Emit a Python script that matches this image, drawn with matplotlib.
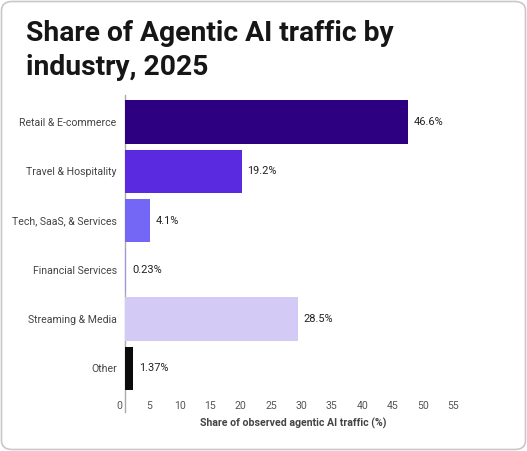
import numpy as np
import matplotlib
matplotlib.use("Agg")
import matplotlib.pyplot as plt
from matplotlib.patches import FancyBboxPatch
from matplotlib.transforms import ScaledTranslation

# 数据
categories = ["Retail & E-commerce", "Travel & Hospitality", "Tech, SaaS, & Services",
              "Financial Services", "Streaming & Media", "Other"]
values = [46.6, 19.2, 4.1, 0.23, 28.5, 1.37]
value_labels = ["46.6%", "19.2%", "4.1%", "0.23%", "28.5%", "1.37%"]
bar_colors = ["#2c0080", "#5a2ae0", "#7467f6", "#9d90ee", "#d3cbf6", "#0b0b0b"]
x_ticks = [0, 5, 10, 15, 20, 25, 30, 35, 40, 45, 50, 55]

W, H = 527, 451
fig = plt.figure(figsize=(W / 100, H / 100), dpi=100)

# 圆角卡片背景
card = FancyBboxPatch((1.5 / W, 1.5 / H), (W - 3) / W, (H - 3) / H,
                      boxstyle="round,pad=0,rounding_size=0.02",
                      transform=fig.transFigure, facecolor="white",
                      edgecolor="#c8c8c8", linewidth=1.2, zorder=-10)
fig.patches.append(card)

fig.text(26 / W, 1 - 20 / H, "Share of Agentic AI traffic by\nindustry, 2025",
         fontsize=20.3, fontweight="bold", family="Roboto", color="#161616",
         va="top", ha="left", linespacing=1.32)

left, right, top, bottom = 125, 476, 95, 412
ax = fig.add_axes([left / W, 1 - bottom / H, (right - left) / W, (bottom - top) / H])
ax.set_facecolor("none")

y = np.arange(len(categories))
ax.barh(y, values, height=0.88, color=bar_colors, zorder=3)

for yi, v, lab in zip(y, values, value_labels):
    ax.annotate(lab, (v, yi), xytext=(4, 0), textcoords="offset points",
                va="center", ha="left", fontsize=7.9, family="Roboto", color="#222222")

ax.set_xlim(0, 57.7)
ax.set_ylim(5.89, -0.55)
ax.set_yticks(y)
ax.set_yticklabels(categories, fontsize=7.6, family="Roboto", color="#444444")
ax.set_xticks(x_ticks)
ax.set_xticklabels([str(t) for t in x_ticks], fontsize=7.6, family="Roboto", color="#555555")
ax.tick_params(axis="y", length=0, pad=6)
ax.tick_params(axis="x", length=0, pad=-8)

# 刻度标签整体左移约6像素
shift = ScaledTranslation(-6 / 100, 0, fig.dpi_scale_trans)
for lbl in ax.get_xticklabels():
    lbl.set_transform(lbl.get_transform() + shift)

for s in ["top", "right", "bottom"]:
    ax.spines[s].set_visible(False)
ax.spines["left"].set_color("#aaaaaa")
ax.spines["left"].set_linewidth(1)

ax.set_xlabel("Share of observed agentic AI traffic (%)", fontsize=7.6,
              fontweight="bold", family="Roboto", color="#444444")
ax.xaxis.set_label_coords(0.479, -0.018)

fig.savefig("out.png", dpi=100)
